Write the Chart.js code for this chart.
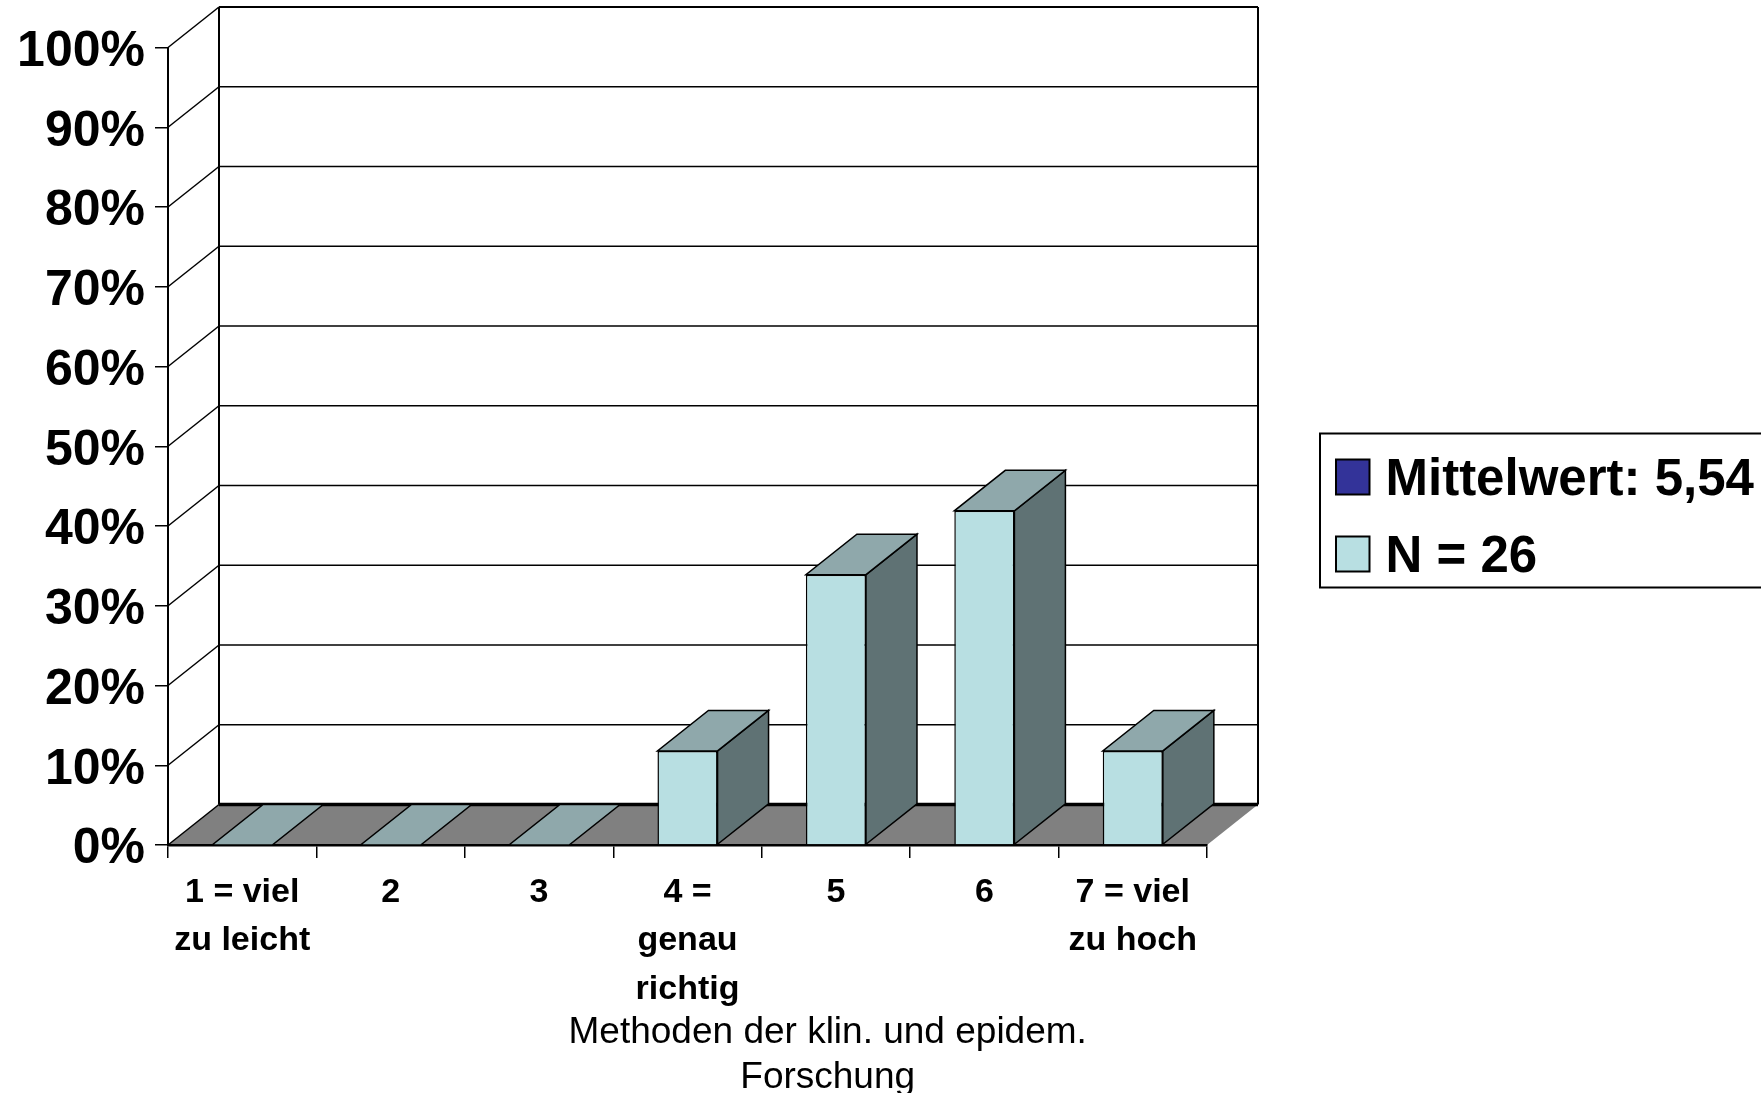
<html><head><script src="https://cdn.jsdelivr.net/npm/chart.js@4.4.3/dist/chart.umd.min.js"></script></head>
<body style="margin:0;background:#fff">
<canvas id="mychart" width="1761" height="1093" style="display:block"></canvas>
<script>
categories = [["1 = viel", "zu leicht"], "2", "3", ["4 =", "genau", "richtig"], "5", "6", ["7 = viel", "zu hoch"]]
n26_values = [0, 0, 0, 11.8, 33.9, 41.9, 11.8]
mean_values = []
series_names = ["Mittelwert: 5,54", "N = 26"]
axis_title = ["Methoden der klin. und epidem.", "Forschung"]

FONT = "'Liberation Sans', Arial, sans-serif"
DX = 51; DY = 40.5

function poly(ctx, pts, fill, lw) {
  ctx.beginPath()
  pts.forEach((p, i) => i ? ctx.lineTo(p[0], p[1]) : ctx.moveTo(p[0], p[1]))
  ctx.closePath()
  if (fill) { ctx.fillStyle = fill; ctx.fill() }
  if (lw) { ctx.lineWidth = lw; ctx.strokeStyle = "#000"; ctx.stroke() }
}
function line(ctx, x1, y1, x2, y2, lw) {
  ctx.beginPath(); ctx.moveTo(x1, y1); ctx.lineTo(x2, y2)
  ctx.lineWidth = lw; ctx.strokeStyle = "#000"; ctx.stroke()
}

// 3d box: back wall + floor behind the scales, bar sides behind the bars
box3d = {
  id: "box3d",
  afterLayout(chart) {
    // legend and title sit where the original has them, not where the layout puts them
    l = chart.legend
    l.left = 1319; l.right = 1790; l.top = 429; l.bottom = 700
    t = chart.titleBlock
    t.left = 527.7; t.right = 1127.7; t.top = 1010; t.bottom = 1100
    // "richtig" hangs below the fitted axis box, don't let it clip
    chart.scales.x.bottom = 1093
  },
  beforeDraw(chart) {
    ctx = chart.ctx
    a = chart.chartArea; ys = chart.scales.y
    y0 = ys.getPixelForValue(0)
    ctx.save()
    poly(ctx, [[a.left, y0], [a.right, y0], [a.right + DX, y0 - DY], [a.left + DX, y0 - DY]], "#808080")
    ys.ticks.forEach(tk => {
      py = ys.getPixelForValue(tk.value)
      line(ctx, a.left, py, a.left + DX, py - DY, 1.5)
      line(ctx, a.left + DX, py - DY, a.right + DX, py - DY, tk.value == 0 ? 3.5 : (tk.value == 100 ? 2 : 1.5))
    })
    line(ctx, a.left + DX, a.top - DY, a.left + DX, y0 - DY, 2)
    line(ctx, a.right + DX, a.top - DY, a.right + DX, y0 - DY, 2)
    // legend frame, runs off the right edge like the original
    ctx.lineWidth = 2; ctx.strokeStyle = "#000"
    ctx.strokeRect(1320, 433.5, 460, 154)
    ctx.restore()
  },
  beforeDatasetsDraw(chart) {
    ctx = chart.ctx
    ctx.save()
    chart.getDatasetMeta(1).data.forEach((b, i) => {
      x1 = b.x - b.width / 2; x2 = b.x + b.width / 2
      if (n26_values[i] > 0) poly(ctx, [[x2, b.y], [x2, b.base], [x2 + DX, b.base - DY], [x2 + DX, b.y - DY]], "#5f7274", 1.5)
      poly(ctx, [[x1, b.y], [x2, b.y], [x2 + DX, b.y - DY], [x1 + DX, b.y - DY]], "#8fa8ab", 1.5)
    })
    ctx.restore()
  },
  afterDraw(chart) {
    ctx = chart.ctx
    ctx.save()
    chart.legend.legendHitBoxes.forEach((h, i) => {
      ctx.fillStyle = chart.data.datasets[i].backgroundColor
      ctx.fillRect(1336, h.top + 4.5, 33.5, 35)
      ctx.lineWidth = 2; ctx.strokeStyle = "#000"
      ctx.strokeRect(1336, h.top + 4.5, 33.5, 35)
    })
    ctx.restore()
  }
}

new Chart(document.querySelector("#mychart"), {
  type: "bar",
  plugins: [box3d],
  data: {
    labels: categories,
    datasets: [
      { label: series_names[0], data: mean_values, backgroundColor: "#333399", borderColor: "#000", borderWidth: 2, grouped: false },
      { label: series_names[1], data: n26_values, backgroundColor: "#b8dfe2", borderColor: "#000", borderWidth: 1.5, grouped: false,
        barPercentage: 0.405, categoryPercentage: 1 }
    ]
  },
  options: {
    responsive: false, animation: false,
    layout: { padding: { top: 47.5, left: 0, right: 554, bottom: 0 } },
    plugins: {
      tooltip: { enabled: false },
      legend: {
        position: "chartArea", align: "start",
        labels: {
          color: "#000", boxWidth: 15, boxHeight: 36, padding: 26,
          font: { family: FONT, size: 51, weight: "bold" },
          generateLabels(chart) {
            return Chart.defaults.plugins.legend.labels.generateLabels(chart).map(it => ({ ...it, fillStyle: "transparent", strokeStyle: "transparent", lineWidth: 0 }))
          }
        }
      },
      title: {
        display: true, text: axis_title, position: "bottom", fullSize: false, color: "#000", padding: 0,
        font: { family: FONT, size: 37, weight: "normal", lineHeight: 1.216 }
      }
    },
    scales: {
      x: {
        afterFit(s) { s.height = 158 },
        grid: { drawOnChartArea: false, color: "#000", tickLength: 13, lineWidth: 1.5 },
        border: { color: "#000", width: 2.5 },
        ticks: { color: "#000", padding: 10.5, autoSkip: false, maxRotation: 0, font: { family: FONT, size: 34, weight: "bold", lineHeight: 1.42 } }
      },
      y: {
        min: 0, max: 100,
        afterFit(s) { s.width = 168 },
        grid: { drawOnChartArea: false, color: "#000", tickLength: 13, lineWidth: 1.5 },
        border: { color: "#000", width: 2 },
        ticks: { color: "#000", padding: 10, stepSize: 10, labelOffset: 4.5, callback: v => v + "%", font: { family: FONT, size: 50, weight: "bold" } }
      }
    }
  }
})
</script>
</body></html>
